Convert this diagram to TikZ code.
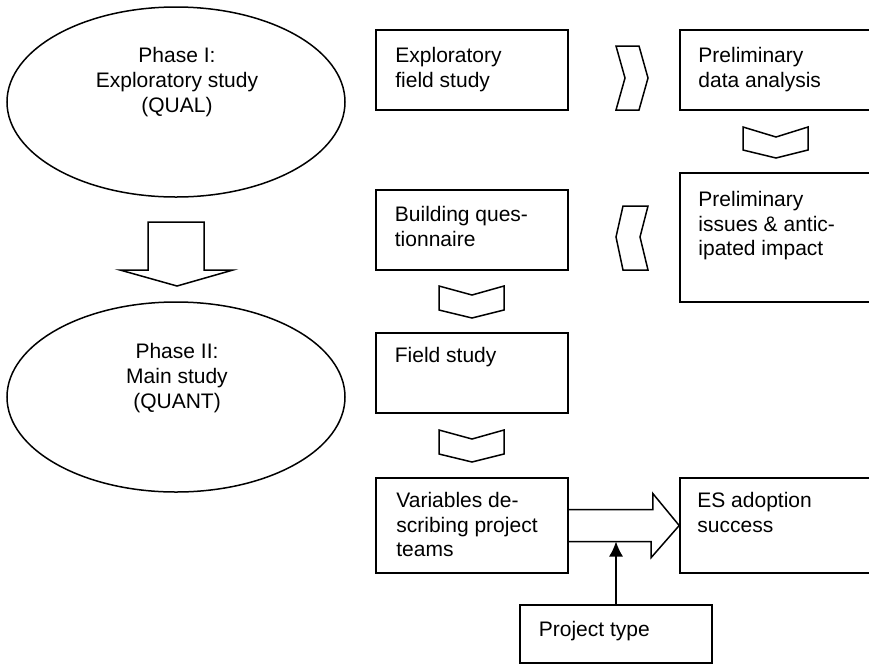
\documentclass[tikz,border=0pt]{standalone}
\usepackage{fontspec}
\setmainfont{Liberation Sans}
\usetikzlibrary{shapes.geometric,arrows.meta}

\tikzstyle{box} = [draw, rectangle, line width=1.6pt, inner sep=0pt, minimum width=192pt, minimum height=80pt]
\tikzstyle{phase} = [draw, ellipse, line width=1.5pt, inner sep=0pt, minimum width=338pt, minimum height=190pt]
\tikzstyle{txt} = [align=left, anchor=north west, inner sep=0pt, font=\fontsize{21}{24.5}\selectfont]
\tikzstyle{ptxt} = [align=center, anchor=north, inner sep=0pt, font=\fontsize{21}{25}\selectfont]
\tikzstyle{outline} = [draw, line width=1.5pt, line join=miter]

\begin{document}
\begin{tikzpicture}[x=1pt,y=-1pt,>=Latex]
            \useasboundingbox (0,0) rectangle (869,665);
            %
            % The two phases on the left
            \node [phase] (qual) at (176,102) {};
            \node [ptxt] (qualtext) at (177,47) {Phase I:\\Exploratory study\\(QUAL)};
            \node [phase] (quant) at (176,397) {};
            \node [ptxt] (quanttext) at (177,343) {Phase II:\\Main study\\(QUANT)};
            % Big arrow from phase I to phase II
            \draw [outline] (148,222) -- (204,222) -- (204,270) -- (233,270) -- (177,286)
                -- (120,270) -- (148,270) -- cycle;
            %
            % We place the blocks of the study
            \node [box] (explore) at (472,70) {};
            \node [txt] at ([shift={(20,18)}]explore.north west) {Exploratory\\field study};
            \node [box, minimum width=200pt] (prelim) at (780,70) {};
            \node [txt] at ([shift={(19,18)}]prelim.north west) {Preliminary\\data analysis};
            \node [box, minimum width=200pt, minimum height=129pt] (issues) at (780,237.5) {};
            \node [txt] at ([shift={(19,19)}]issues.north west) {Preliminary\\issues \& antic-\\ipated impact};
            \node [box] (quest) at (472,230) {};
            \node [txt] at ([shift={(19.5,17)}]quest.north west) {Building ques-\\tionnaire};
            \node [box] (field) at (472,373) {};
            \node [txt] at ([shift={(19.5,15)}]field.north west) {Field study};
            \node [box, minimum height=95pt] (vars) at (472,525.5) {};
            \node [txt] at ([shift={(21,15)}]vars.north west) {Variables de-\\scribing project\\teams};
            \node [box, minimum width=200pt, minimum height=95pt] (success) at (780,525.5) {};
            \node [txt] at ([shift={(18,15)}]success.north west) {ES adoption\\success};
            \node [box, minimum height=58pt] (ptype) at (616,634) {};
            \node [txt] at ([shift={(19.5,17)}]ptype.north west) {Project type};
            %
            % Chevrons between the blocks
            \draw [outline] (616,46) -- (639,46) -- (648,78) -- (639,110) -- (616,110) -- (625,78) -- cycle;
            \draw [outline] (743,127) -- (776,137) -- (808,127) -- (808,150) -- (776,158) -- (743,150) -- cycle;
            \draw [outline] (623,206) -- (648,206) -- (640,237) -- (648,270) -- (623,270) -- (616,237) -- cycle;
            \draw [outline] (439,286) -- (472,295) -- (504,286) -- (504,310) -- (472,318) -- (439,310) -- cycle;
            \draw [outline] (439,430) -- (472,439) -- (504,430) -- (504,454) -- (472,462) -- (439,454) -- cycle;
            %
            % Block arrow from the variables to the success
            \draw [outline] (vars.east) ++(0,-16) -- ++(84,0) -- ++(0,-16) -- (success.west)
                -- ++(-28,32) -- ++(0,-16) -- ++(-84,0);
            \coordinate (moderate) at (616,541.5);
            \draw [line width=1.5pt, -{Latex[length=15pt,width=14pt]}] (ptype) -- (moderate);
            %
        \end{tikzpicture}
\end{document}
